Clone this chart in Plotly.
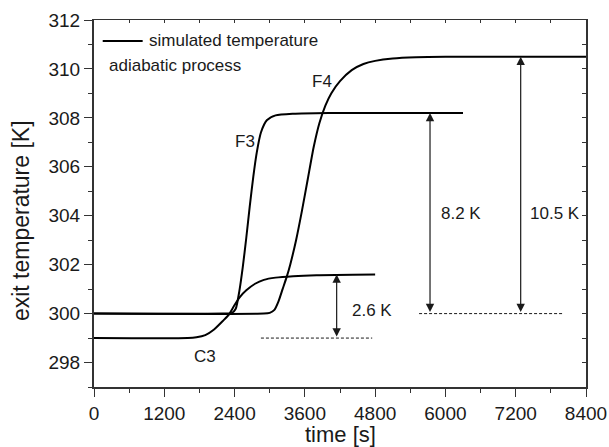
import plotly.graph_objects as go

# Simulated exit temperatures (time in s, temperature in K)
c3_time = [0, 1600, 1750, 1900, 2050, 2200, 2300, 2400, 2500, 2600, 2750, 2900, 3100, 3400, 3800, 4800]
c3_temp = [299.0, 299.0, 299.03, 299.12, 299.35, 299.7, 299.95, 300.35, 300.7, 300.95, 301.22, 301.38, 301.47, 301.53, 301.57, 301.6]

f3_time = [0, 2200, 2350, 2420, 2480, 2540, 2600, 2660, 2720, 2780, 2850, 2950, 3100, 3400, 4000, 6300]
f3_temp = [300.0, 300.0, 300.02, 300.2, 300.9, 301.9, 303.1, 304.4, 305.6, 306.6, 307.4, 307.9, 308.1, 308.17, 308.2, 308.2]

f4_time = [0, 2900, 3000, 3080, 3150, 3220, 3290, 3350, 3450, 3550, 3650, 3750, 3850, 3950, 4050,
           4200, 4400, 4600, 4800, 5100, 5500, 6000, 8400]
f4_temp = [300.0, 300.0, 300.03, 300.15, 300.5, 301.0, 301.5, 302.0, 303.0, 304.2, 305.5, 306.8, 307.8, 308.5, 309.0,
           309.5, 309.95, 310.2, 310.33, 310.43, 310.48, 310.5, 310.5]

curve_labels = ["C3", "F3", "F4"]
delta_labels = ["2.6 K", "8.2 K", "10.5 K"]
x_ticks = [0, 1200, 2400, 3600, 4800, 6000, 7200, 8400]
y_ticks = [298, 300, 302, 304, 306, 308, 310, 312]

FONT = "Liberation Sans, Arial, Helvetica, sans-serif"
INK = "#1a1a1a"
AX = "#333333"

fig = go.Figure()
for t, T in [(c3_time, c3_temp), (f3_time, f3_temp), (f4_time, f4_temp)]:
    fig.add_trace(go.Scatter(x=t, y=T, mode="lines", line=dict(color="black", width=2, shape="spline", smoothing=0.6),
                             showlegend=False, hoverinfo="skip"))
# carrier for the top/right frame axes
fig.add_trace(go.Scatter(x=[], y=[], xaxis="x2", yaxis="y2", showlegend=False))

# dashed baselines
fig.add_shape(type="line", x0=2850, x1=4750, y0=c3_temp[0], y1=c3_temp[0], xref="x", yref="y",
              line=dict(color=INK, width=1, dash="3px,2px"))
fig.add_shape(type="line", x0=5550, x1=8000, y0=f3_temp[0], y1=f3_temp[0], xref="x", yref="y",
              line=dict(color=INK, width=1, dash="3px,2px"))

# double-headed arrows for temperature rises
for xpos, lo, hi in [(4143, c3_temp[0], c3_temp[-1]), (5737, f3_temp[0], f3_temp[-1]), (7285, f4_temp[0], f4_temp[-1])]:
    fig.add_annotation(x=xpos, y=hi, ax=xpos, ay=lo, xref="x", yref="y", axref="x", ayref="y", text="",
                       showarrow=True, arrowhead=2, arrowside="end+start", arrowsize=1.4, arrowwidth=1.2,
                       arrowcolor=INK)

tf = dict(family=FONT, size=17, color=INK)
for txt, xp, yp in zip(delta_labels, [4371, 5896, 7414], [300.11, 304.08, 304.08]):
    fig.add_annotation(x=xp, y=yp, text=txt, showarrow=False, xanchor="left", yanchor="middle", font=tf)
for txt, xp, yp in zip(curve_labels, [1895, 2578, 3887], [298.25, 307.02, 309.47]):
    fig.add_annotation(x=xp, y=yp, text=txt, showarrow=False, xanchor="center", yanchor="middle", font=tf)

# legend entry
fig.add_shape(type="line", xref="paper", yref="paper", x0=0.0177, x1=0.0989, y0=0.943, y1=0.943,
              line=dict(color="black", width=2))
fig.add_annotation(xref="paper", yref="paper", x=0.107, y=0.943, text="simulated temperature", showarrow=False,
                   xanchor="left", yanchor="middle", font=tf)
fig.add_annotation(xref="paper", yref="paper", x=0.0258, y=0.8766, text="adiabatic process", showarrow=False,
                   xanchor="left", yanchor="middle", font=tf)

# axis titles
fig.add_annotation(xref="paper", yref="paper", x=0.5, y=0, yshift=-47, text="time [s]", showarrow=False,
                   xanchor="center", yanchor="middle", font=dict(family=FONT, size=22, color=INK))
fig.add_annotation(xref="paper", yref="paper", x=0, y=0.452, xshift=-73, text="exit temperature [K]", showarrow=False,
                   textangle=-90, xanchor="center", yanchor="middle", font=dict(family=FONT, size=23, color=INK))

tick_font = dict(family=FONT, size=19, color=INK)
fig.update_layout(
    width=609, height=447,
    margin=dict(l=94, r=23, t=20, b=60),
    paper_bgcolor="white", plot_bgcolor="white",
    xaxis=dict(range=[0, 8400], tickvals=x_ticks, ticks="outside", ticklen=8, tickwidth=1.3, tickcolor=AX,
               showline=True, linewidth=2, linecolor=AX, showgrid=False, zeroline=False, tickfont=tick_font,
               automargin=False,
               minor=dict(dtick=600, tick0=0, ticks="outside", ticklen=4, tickwidth=1.3, tickcolor=AX)),
    yaxis=dict(range=[297, 312], tickvals=y_ticks, ticks="outside", ticklen=8, tickwidth=1.3, tickcolor=AX,
               showline=True, linewidth=2, linecolor=AX, showgrid=False, zeroline=False, tickfont=tick_font,
               automargin=False,
               minor=dict(dtick=1, tick0=297, ticks="outside", ticklen=4, tickwidth=1.3, tickcolor=AX)),
    xaxis2=dict(range=[0, 8400], overlaying="x", side="top", anchor="y2", dtick=600, tick0=0, ticks="inside",
                ticklen=3, tickwidth=1, tickcolor=AX, showticklabels=False, showline=True, linewidth=1.2,
                linecolor=AX, showgrid=False, zeroline=False, automargin=False),
    yaxis2=dict(range=[297, 312], overlaying="y", side="right", anchor="x2", dtick=1, tick0=297, ticks="inside",
                ticklen=4, tickwidth=1, tickcolor=AX, showticklabels=False, showline=True, linewidth=2,
                linecolor=AX, showgrid=False, zeroline=False, automargin=False),
)

fig.write_html("out.html")
